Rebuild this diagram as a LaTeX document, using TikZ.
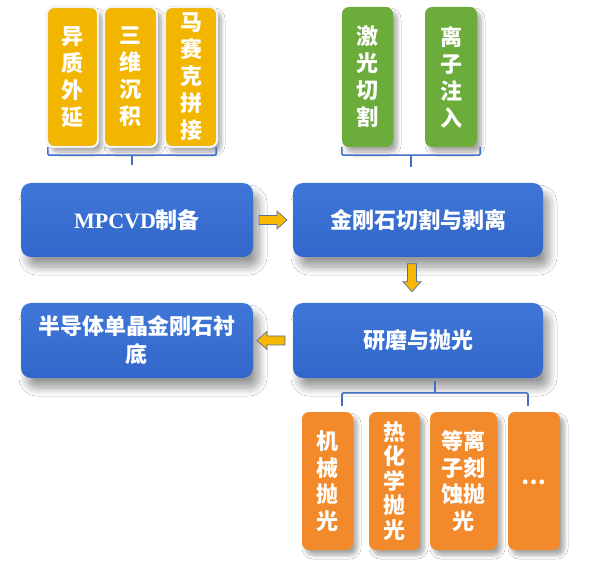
\documentclass[tikz,border=0pt]{standalone}
\usepackage{fontspec}
\newfontfamily\cjk{Noto Sans CJK SC}
\newfontfamily\tnr{Liberation Serif}
\usetikzlibrary{calc,shadows.blur}
\definecolor{bluetop}{HTML}{3E77D8}
\definecolor{bluebot}{HTML}{3366CA}
\definecolor{yel}{HTML}{F2B500}
\definecolor{grn}{HTML}{6BAC3B}
\definecolor{org}{HTML}{F2892A}
\definecolor{braceblue}{HTML}{4470C6}
\definecolor{arrfill}{HTML}{F6B800}
\definecolor{arrline}{HTML}{5B6F98}
\tikzset{
  bluebox/.style={rounded corners=10pt, top color=bluetop, bottom color=bluebot,
    text=white, font=\cjk\bfseries\fontsize{22}{28}\selectfont, align=center, inner sep=0pt,
    blur shadow={shadow xshift=6pt, shadow yshift=-10pt, shadow blur steps=12,
      shadow blur radius=8pt, shadow opacity=40}},
  smallbox/.style={rounded corners=7pt, text=white, align=center, inner sep=0pt,
    minimum width=51pt, minimum height=140pt,
    font=\cjk\bfseries\fontsize{22}{27}\selectfont,
    blur shadow={shadow xshift=4pt, shadow yshift=-5pt, shadow blur steps=8,
      shadow blur radius=4pt, shadow opacity=35}},
  yelbox/.style={smallbox, fill=yel, draw=gray!30, double=white, double distance=1.4pt},
  grnbox/.style={smallbox, fill=grn},
  orgbox/.style={smallbox, fill=org, minimum height=138pt},
  brc/.style={draw=braceblue, line width=1.6pt, rounded corners=1.5pt},
  arrowstyle/.style={fill=arrfill, draw=arrline, line width=0.7pt, line join=miter},
  blockarrow/.pic={\path[arrowstyle] (-14,-4.5) -- (4,-4.5) -- (4,-9) -- (14,0)
    -- (4,9) -- (4,4.5) -- (-14,4.5) -- cycle;}
}
\begin{document}
\begin{tikzpicture}[x=1pt,y=-1pt]
\useasboundingbox[fill=white] (0,0) rectangle (590,567);

% blue process boxes
\node[bluebox, minimum width=232pt, minimum height=74pt] (mp) at (137,220) {{\tnr\bfseries MPCVD}制备};
\node[bluebox, minimum width=250pt, minimum height=74pt] (cut) at (418,220) {金刚石切割与剥离};
\node[bluebox, minimum width=232pt, minimum height=75pt] (sub) at (137,340.5) {半导体单晶金刚石衬\\底};
\node[bluebox, minimum width=250pt, minimum height=75pt] (pol) at (418,340.5) {研磨与抛光};

% yellow boxes
\node[yelbox] (y1) at (72.5,77) {异\\质\\外\\延};
\node[yelbox, minimum width=53pt] (y2) at (130.5,77) {三\\维\\沉\\积};
\node[yelbox, minimum width=52pt] (y3) at (191,77) {马\\赛\\克\\拼\\接};

% green boxes
\node[grnbox] (g1) at (367.5,77) {激\\光\\切\\割};
\node[grnbox, minimum width=52pt] (g2) at (451,77) {离\\子\\注\\入};

% orange boxes
\node[orgbox, font=\cjk\bfseries\fontsize{22}{26.5}\selectfont] (o1) at (327.5,481) {机\\械\\抛\\光};
\node[orgbox, font=\cjk\bfseries\fontsize{22}{24.5}\selectfont] (o2) at (394.5,481) {热\\化\\学\\抛\\光};
\node[orgbox, minimum width=67pt, font=\cjk\bfseries\fontsize{22}{26.5}\selectfont] (o3) at (463.5,481) {等离\\子刻\\蚀抛\\光};
\node[orgbox, minimum width=52pt] (o4) at (534,481) {\raisebox{-7pt}{…}};

% braces
\draw[brc] ([xshift=1pt]y1.south west) -- ++(0,8) -| ([xshift=-1pt]y3.south east);
\draw[brc] ($(y1.south west)!0.5!(y3.south east)+(0,8)$) -- ++(0,10);
\draw[brc] (g1.south west) -- ++(0,8) -| ([xshift=3pt]g2.south east);
\draw[brc] ($(g1.south west)!0.5!([xshift=3pt]g2.south east)+(0,8)$) -- ++(0,12);
\coordinate (ob1) at ([xshift=14.5pt,yshift=6pt]o1.north);
\coordinate (ob4) at ([xshift=-6pt,yshift=6pt]o4.north);
\draw[brc] (ob1) -- ++(0,-13) -| (ob4);
\draw[brc] ($(ob1)!0.5!(ob4)+(0,-13)$) -- ++(0,-12);

% block arrows
\pic at ($(mp.east)!0.5!(cut.west)$) {blockarrow};
\pic[rotate=-90] at ($([xshift=-6pt]cut.south)!0.45!([xshift=-6pt]pol.north)$) {blockarrow};
\pic[rotate=180] at ($(pol.west)!0.55!(sub.east)$) {blockarrow};
\end{tikzpicture}
\end{document}
